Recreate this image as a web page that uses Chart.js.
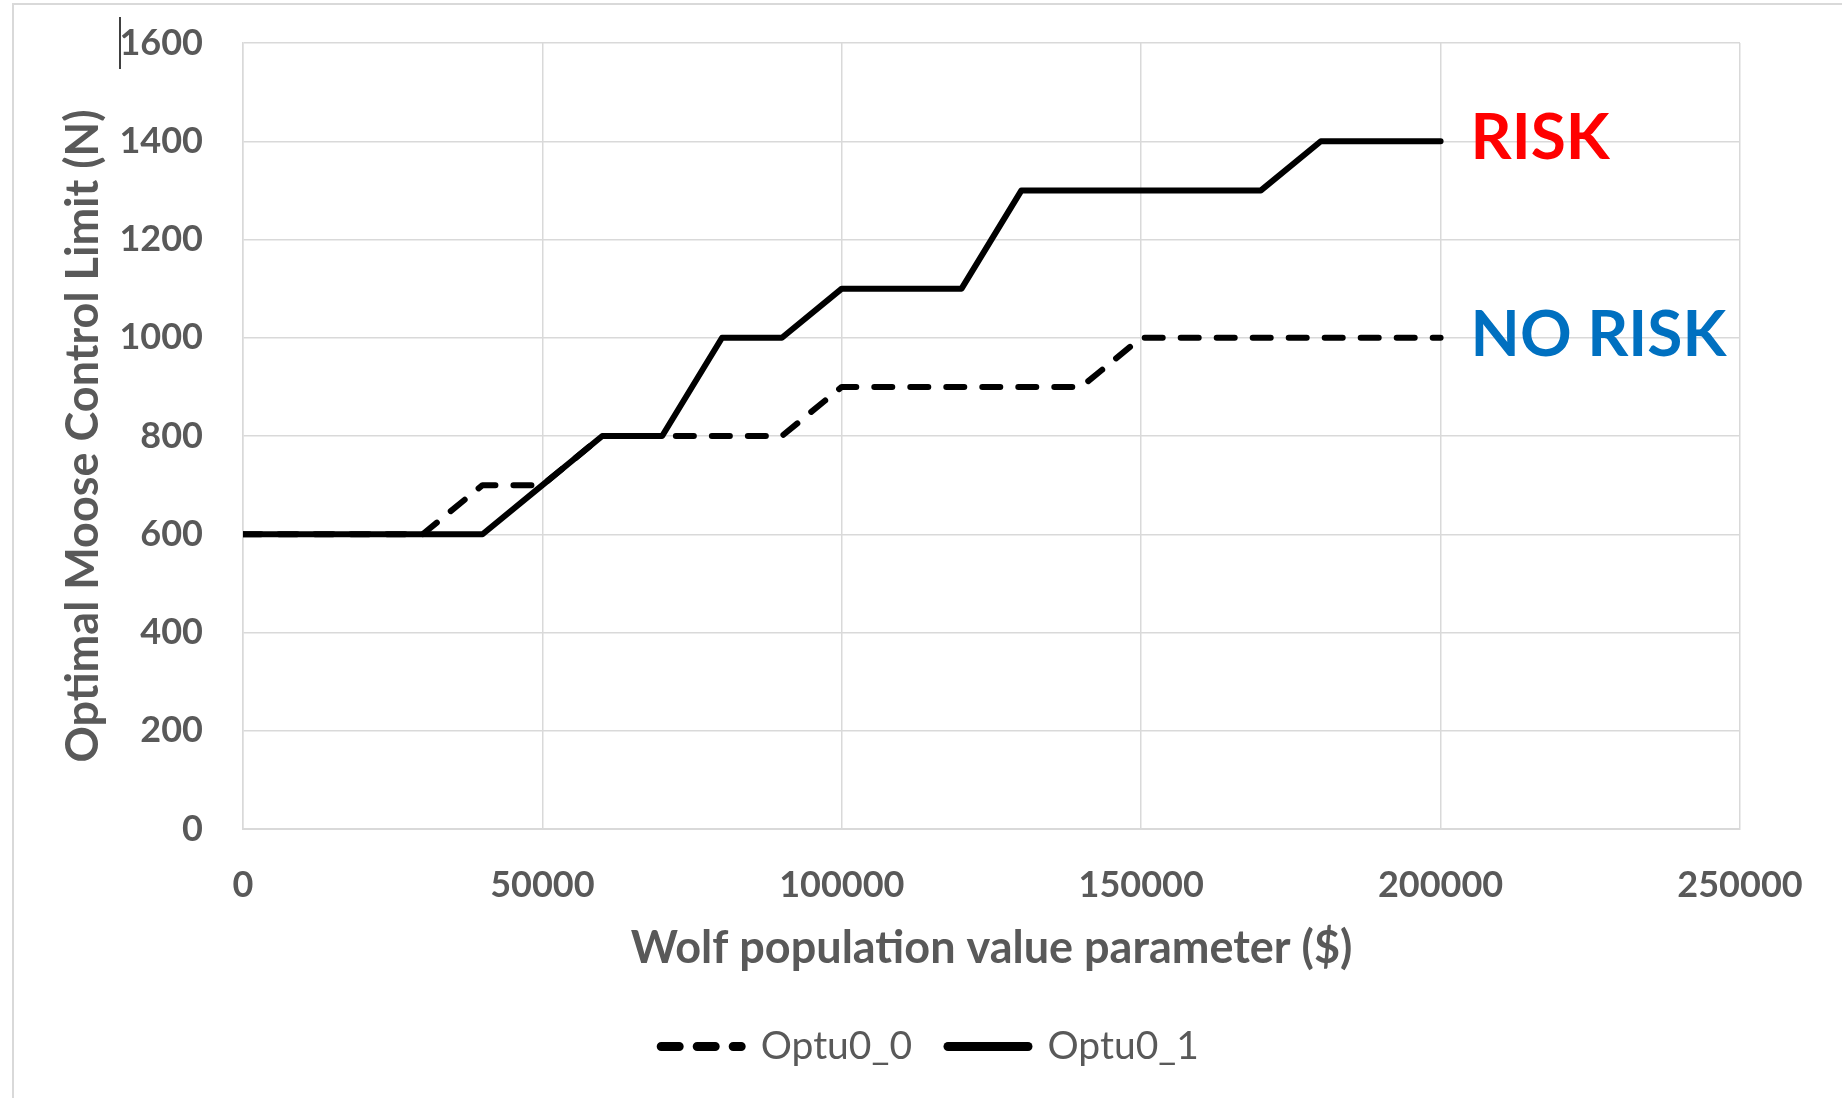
<!DOCTYPE html>
<html>
<head>
<meta charset="utf-8">
<title>Optimal Moose Control Limit</title>
<script src="https://cdn.jsdelivr.net/npm/chart.js@4.4.1/dist/chart.umd.min.js"></script>
<style>
    html, body { margin: 0; padding: 0; background: #fff; }
    canvas { display: block; }
</style>
</head>
<body>
<canvas id="chart" width="1842" height="1098"></canvas>
<script>
// Wolf population value parameter ($)
const wolfValues = [0, 10000, 20000, 30000, 40000, 50000, 60000, 70000, 80000, 90000, 100000,
    110000, 120000, 130000, 140000, 150000, 160000, 170000, 180000, 190000, 200000];

// Optimal moose control limit (N)
const optu0_0 = [600, 600, 600, 600, 700, 700, 800, 800, 800, 800, 900,
    900, 900, 900, 900, 1000, 1000, 1000, 1000, 1000, 1000];
const optu0_1 = [600, 600, 600, 600, 600, 700, 800, 800, 1000, 1000, 1100,
    1100, 1100, 1300, 1300, 1300, 1300, 1300, 1400, 1400, 1400];

const seriesNames = ['Optu0_0', 'Optu0_1'];

// text labels placed at the end of each line
const endLabels = ['NO RISK', 'RISK'];
const endLabelColors = ['#0070C0', '#FF0000'];

const xTickMax = 250000;
const xTickStep = 50000;
const yTickMax = 1600;
const yTickStep = 200;

const FONT = 'Lato';
const GRAY_TEXT = '#595959';
const GRID = '#d9d9d9';

function toPoints(values) {
    return wolfValues.map((x, i) => ({ x: x, y: values[i] }));
}

// light frame around the chart + end-of-line labels
const decorPlugin = {
    id: 'decor',
    beforeDraw(chart) {
        const ctx = chart.ctx;
        ctx.save();
        ctx.fillStyle = '#fff';
        ctx.fillRect(0, 0, chart.width, chart.height);
        ctx.strokeStyle = GRID;
        ctx.lineWidth = 2;
        ctx.strokeRect(13, 4, chart.width + 50, chart.height + 50);
        // text cursor left in the screenshot
        ctx.strokeStyle = '#000';
        ctx.lineWidth = 1.5;
        ctx.beginPath();
        ctx.moveTo(120, 17);
        ctx.lineTo(120, 69);
        ctx.stroke();
        ctx.restore();
    },
    afterDatasetsDraw(chart) {
        const ctx = chart.ctx;
        const xs = chart.scales.x;
        const ys = chart.scales.y;
        const size = 64;
        ctx.save();
        ctx.font = `bold ${size}px ${FONT}`;
        ctx.textAlign = 'left';
        ctx.textBaseline = 'alphabetic';
        const lastX = wolfValues[wolfValues.length - 1];
        const lastY = [optu0_0[optu0_0.length - 1], optu0_1[optu0_1.length - 1]];
        endLabels.forEach((txt, i) => {
            ctx.fillStyle = endLabelColors[i];
            const px = xs.getPixelForValue(lastX) + 30;
            const py = ys.getPixelForValue(lastY[i]) + size * 0.36 - 5;
            ctx.fillText(txt, px, py);
        });
        ctx.restore();
    }
};

const ctx = document.getElementById('chart').getContext('2d');
const chart = new Chart(ctx, {
    type: 'line',
    data: {
        datasets: [{
            label: seriesNames[0],
            data: toPoints(optu0_0),
            borderColor: '#000',
            backgroundColor: '#000',
            borderWidth: 6,
            borderDash: [18, 18],
            borderCapStyle: 'round',
            borderJoinStyle: 'round',
            pointRadius: 0,
            tension: 0
        }, {
            label: seriesNames[1],
            data: toPoints(optu0_1),
            borderColor: '#000',
            backgroundColor: '#000',
            borderWidth: 6,
            borderCapStyle: 'round',
            borderJoinStyle: 'round',
            pointRadius: 0,
            tension: 0
        }]
    },
    options: {
        responsive: false,
        animation: false,
        events: [],
        layout: {
            padding: { left: 22, right: 4, top: 43, bottom: 22 }
        },
        plugins: {
            tooltip: { enabled: false },
            legend: {
                position: 'bottom',
                labels: {
                    usePointStyle: true,
                    pointStyle: 'line',
                    pointStyleWidth: 80,
                    padding: 36,
                    color: GRAY_TEXT,
                    font: { family: FONT, size: 39 },
                    generateLabels(chart) {
                        const items = Chart.defaults.plugins.legend.labels.generateLabels(chart);
                        items.forEach(item => {
                            const ds = chart.data.datasets[item.datasetIndex];
                            item.lineDash = ds.borderDash || [];
                            item.lineCap = 'round';
                            item.lineWidth = 9;
                            item.pointStyle = 'line';
                            item.rotation = 180;
                        });
                        return items;
                    }
                }
            }
        },
        scales: {
            x: {
                type: 'linear',
                min: 0,
                max: xTickMax,
                afterFit(scale) { scale.height = 162; },
                ticks: {
                    stepSize: xTickStep,
                    padding: 0,
                    color: GRAY_TEXT,
                    font: { family: FONT, size: 36, weight: 'bold' },
                    maxRotation: 0,
                    callback: v => String(v)
                },
                grid: { color: GRID, lineWidth: 1.5, drawTicks: true, tickLength: 35, tickColor: 'rgba(0,0,0,0)' },
                border: { color: GRID, width: 2 },
                title: {
                    display: true,
                    text: 'Wolf population value parameter ($)',
                    color: GRAY_TEXT,
                    font: { family: FONT, size: 45, weight: 'bold' },
                    padding: { top: 0, bottom: 16 }
                }
            },
            y: {
                min: 0,
                max: yTickMax,
                afterFit(scale) { scale.width = 243 - 22; },
                ticks: {
                    stepSize: yTickStep,
                    padding: 0,
                    color: GRAY_TEXT,
                    font: { family: FONT, size: 36, weight: 'bold' },
                    callback: v => String(v)
                },
                grid: { color: GRID, lineWidth: 1.5, drawTicks: true, tickLength: 40, tickColor: 'rgba(0,0,0,0)' },
                border: { color: GRID, width: 1.5 },
                title: {
                    display: true,
                    text: 'Optimal Moose Control Limit (N)',
                    color: GRAY_TEXT,
                    font: { family: FONT, size: 45, weight: 'bold' },
                    padding: { top: 34, bottom: 0 }
                }
            },
            // empty right-hand axis, only reserves the space right of the plot
            yRight: {
                position: 'right',
                afterFit(scale) { scale.width = 1842 - 4 - 1740; },
                ticks: { display: false },
                grid: { display: false, drawOnChartArea: false },
                border: { display: false }
            }
        }
    },
    plugins: [decorPlugin]
});
</script>
</body>
</html>
